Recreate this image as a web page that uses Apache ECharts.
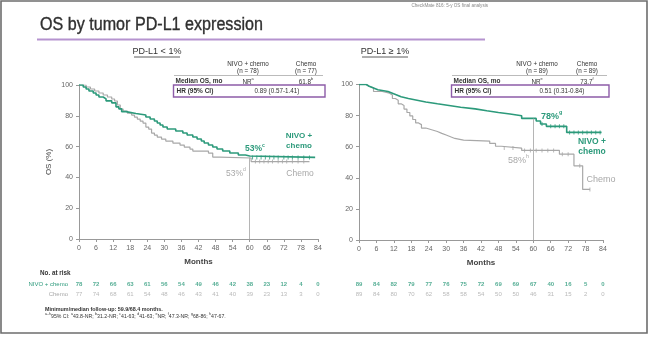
<!DOCTYPE html>
<html><head><meta charset="utf-8">
<script src="https://cdn.jsdelivr.net/npm/echarts@6/dist/echarts.min.js"></script>
<style>html,body{margin:0;padding:0;background:#fff}#c{width:650px;height:337px}</style>
</head><body><div id="c"></div>
<script>
// ---------- data ----------
const monthTicks = [0,6,12,18,24,30,36,42,48,54,60,66,72,78,84];
const riskRows = ['NIVO + chemo','Chemo'];
const lowRiskNivo  = [78,72,66,63,61,56,54,49,46,42,38,23,12,4,0];
const lowRiskChemo = [77,74,68,61,54,48,46,43,41,40,39,23,13,3,0];
const highRiskNivo  = [89,84,82,79,77,76,75,72,69,69,67,40,16,5,0];
const highRiskChemo = [89,84,80,70,62,58,58,54,50,50,46,31,15,2,0];

const lowNivo = [[0,100],[1.5,98.7],[2.5,97.4],[3.5,96.1],[5,94.8],[6,93.5],[7,92.2],[8.5,91],[9.5,89.7],[11.5,88.4],[13,85.8],[14,84.5],[15,82.7],[16.5,81.5],[20,80.5],[23.5,79.2],[25,77.9],[26.5,76.6],[27.5,75.3],[28.5,74],[29.5,72.7],[31,71.4],[34,70.1],[36.5,68.8],[38,67.5],[40,66.2],[41.5,64.9],[43,63.6],[44,62.3],[45.5,61],[47,59.7],[48.5,58.4],[50.5,57.1],[53,55.8],[56,54.5],[58.5,53.9],[60,53],[83,53]];
const lowChemo = [[0,100],[2.5,98.7],[4,97.4],[5.5,96.1],[7,94.8],[8.5,93.5],[10,92.2],[11.5,90.9],[12.5,89.6],[13.5,87],[14.5,84.4],[15.5,83.1],[17,81.8],[18.5,80.5],[19.5,79.2],[20.5,77.9],[21.5,76.6],[22.5,75.3],[23.5,72.7],[24.5,71.4],[25.5,68.8],[26.5,67.5],[27.5,66.2],[29,64.9],[30.5,63.6],[33,62.3],[35.5,61],[37,59.7],[39,58.4],[40,57.1],[45.5,55.8],[47,53.2],[49.5,52.6],[60.5,50.3],[81,50.3]];
const highNivo = [[0,100],[2.5,98.9],[3.5,97.8],[5,96.6],[6.5,95.5],[10,94.4],[11.5,93.3],[13,92.1],[14.5,91],[17,89.9],[20,88.8],[23,87.6],[27,86.5],[31,85.4],[35,84.3],[40,83.1],[44,82],[48,81],[52,79.9],[56,78.2],[61,76.5],[62.5,74.6],[64.5,73.1],[71.5,69.2],[83.5,69.2]];
const highChemo = [[0,100],[2.5,98.9],[3.5,97.8],[5,95.5],[8,94.4],[10.5,93.3],[11.5,91],[12.5,89.9],[13.5,87.6],[14.5,86.5],[15.5,84.2],[16.5,82],[17.5,79.8],[18.5,77.5],[19.5,75.3],[20.5,74.2],[21.5,72],[23,70.9],[25,69.8],[27,68.6],[28.5,67.5],[30,66.4],[31.5,65.3],[33,64.2],[36,63.6],[45,62.1],[47,60.3],[49,59.1],[56,57.6],[69,55.2],[74,47.7],[77,32.5],[79.5,32.5]];

const lowNivoCens  = [61,62.5,64,65.5,67,68.5,70,72,73.5,75,77,79,81];
const lowChemoCens = [62,63.5,65,66.5,68,70,71.5,73,75,77,79];
const highNivoCens = [63,66,67.5,69,70.5,72.5,74,75.5,77,78.5,80,81.5,83];
const highChemoCens = [50,53,57,59,61,63,65,67,70,72,76,79.5];

const landmark = 60;
const lowAt60 = 53, highAt60 = 78;

// ---------- helpers ----------
const GREEN = '#2c9a7b', GRAY = '#a8a8a8', TXT = '#333', PURPLE = '#8d5ca8';
function stepAt(curve, t){ let v = curve[0][1]; for (const p of curve){ if (p[0] <= t) v = p[1]; else break; } return v; }
function cens(curve, times){ return times.map(t => [t, stepAt(curve, t)]); }

const chart = echarts.init(document.getElementById('c'));
const F = 'Liberation Sans, Arial, sans-serif';

function xAxisKM(g){ return {type:'value', gridIndex:g, min:0, max:84, interval:6,
  axisLine:{lineStyle:{color:'#999', width:1}}, axisTick:{show:true, length:3, lineStyle:{color:'#999'}},
  axisLabel:{fontSize:7, color:'#666', margin:6, fontFamily:F}, splitLine:{show:false},
  name:'Months', nameLocation:'middle', nameGap:19, nameTextStyle:{fontSize:8, fontWeight:'bold', color:'#444', fontFamily:F}}; }
function yAxisKM(g, name){ return {type:'value', gridIndex:g, min:0, max:100, interval:20,
  axisLine:{show:true, lineStyle:{color:'#999', width:1}}, axisTick:{show:true, length:3, lineStyle:{color:'#999'}},
  axisLabel:{fontSize:7, color:'#666', margin:6, fontFamily:F}, splitLine:{show:false},
  name:name, nameLocation:'middle', nameGap:26, nameRotate:90, nameTextStyle:{fontSize:8, color:'#444', fontFamily:F}}; }
function xAxisRisk(g){ return {type:'value', gridIndex:g, min:0, max:84, show:false}; }
function yAxisRisk(g, showLab){ return {type:'category', gridIndex:g, data:riskRows, inverse:true,
  axisLine:{show:false}, axisTick:{show:false}, splitLine:{show:false},
  axisLabel:{show:showLab, margin:11, fontSize:6, fontFamily:F,
    formatter:(v)=> v===riskRows[0] ? '{n|'+v+'}' : '{c|'+v+'}',
    rich:{n:{color:GREEN, fontSize:6, fontFamily:F}, c:{color:GRAY, fontSize:6, fontFamily:F}}}}; }

function kmSeries(data, color, w, xi, z){ return {type:'line', xAxisIndex:xi, yAxisIndex:xi, data, step:'end',
  showSymbol:false, symbol:'none', lineStyle:{color, width:w}, z, silent:true, animation:false}; }
function censSeries(data, color, xi){ return {type:'scatter', xAxisIndex:xi, yAxisIndex:xi, data, symbol:'rect',
  symbolSize:[1,4], itemStyle:{color}, z:4, silent:true, animation:false}; }
function riskSeries(vals, row, color, bold, xi){ return {type:'scatter', xAxisIndex:xi, yAxisIndex:xi,
  data: vals.map((v,i)=>[monthTicks[i], row, v]), symbolSize:0, silent:true, animation:false,
  label:{show:true, position:'inside', formatter:(p)=>String(p.value[2]), color, fontSize:6, fontWeight:bold?'bold':'normal', fontFamily:F}}; }
function landmarkSeries(yTop, xi){ return {type:'line', xAxisIndex:xi, yAxisIndex:xi, data:[], silent:true, animation:false,
  markLine:{silent:true, symbol:'none', label:{show:false}, lineStyle:{color:'#b5b5b5', width:1, type:'solid'},
    data:[[{coord:[landmark,0]},{coord:[landmark,yTop]}]]}, z:1}; }

function txt(x, y, text, o){ o = o||{}; return {type:'text', silent:true, style:Object.assign({x, y, text, fill:TXT,
  font:(o.w||'normal')+' '+(o.s||6.5)+'px '+F, align:o.a||'left', verticalAlign:'middle'}, o.st||{})}; }
function richTxt(x, y, text, size, color, weight, align){ return {type:'text', silent:true, style:{x, y, text, fill:color, align:align||'left', verticalAlign:'middle',
  rich:{m:{fontSize:size, fill:color, fontWeight:weight, fontFamily:F, lineHeight:size+2, verticalAlign:'bottom'},
        s:{fontSize:size*0.6, fill:color, fontWeight:weight, fontFamily:F, lineHeight:size+2, verticalAlign:'top'}}}}; }

function table(x0, x1, cN, cC, nN, nC, medN, medC, hr, boxR){
  return [
    txt(cN, 63.8, 'NIVO + chemo', {a:'center', s:6.3}), txt(cN, 70.8, '(n = '+nN+')', {a:'center', s:6.3}),
    txt(cC, 63.8, 'Chemo', {a:'center', s:6.3}), txt(cC, 70.8, '(n = '+nC+')', {a:'center', s:6.3}),
    {type:'line', silent:true, shape:{x1:x0, y1:75.5, x2:x1, y2:75.5}, style:{stroke:'#aaa', lineWidth:0.8}},
    txt(x0+1.5, 80.8, 'Median OS, mo', {w:'bold', s:6.5}),
    richTxt(cN, 80.8, '{m|'+medN[0]+'}{s|'+medN[1]+'}', 6.3, TXT, 'normal', 'center'),
    richTxt(cC, 80.8, '{m|'+medC[0]+'}{s|'+medC[1]+'}', 6.3, TXT, 'normal', 'center'),
    {type:'rect', silent:true, shape:{x:x0-0.5, y:85, width:boxR-x0+0.5, height:12}, style:{fill:'none', stroke:PURPLE, lineWidth:1.4}},
    txt(x0+2.5, 91, 'HR (95% CI)', {w:'bold', s:6.5}),
    txt((cN+cC)/2, 91, hr, {a:'center', s:6.3})
  ];
}

const graphics = [
  {type:'rect', silent:true, shape:{x:1, y:1, width:646, height:332}, style:{fill:'none', stroke:'#6d6d6d', lineWidth:1.6}},
  {type:'text', silent:true, x:40, y:25.5, scaleX:0.895, style:{x:0, y:0, text:'OS by tumor PD-L1 expression', fill:'#2f2f2f', font:'normal 18px '+F, verticalAlign:'middle', stroke:'#2f2f2f', lineWidth:0.35}},
  {type:'line', silent:true, shape:{x1:37, y1:39.5, x2:485, y2:39.5}, style:{stroke:'#b593cf', lineWidth:2}},
  txt(488, 5.5, 'CheckMate 816: 5-y OS final analysis', {a:'right', s:4.6, st:{fill:'#888'}}),
  txt(157, 51.5, 'PD-L1 < 1%', {a:'center', s:9, st:{fill:'#333'}}),
  {type:'line', silent:true, shape:{x1:134, y1:57, x2:180, y2:57}, style:{stroke:'#333', lineWidth:0.8}},
  txt(385, 51.5, 'PD-L1 \u2265 1%', {a:'center', s:9, st:{fill:'#333'}}),
  {type:'line', silent:true, shape:{x1:362, y1:57, x2:408, y2:57}, style:{stroke:'#333', lineWidth:0.8}},
  ...table(174, 323, 248, 306, 78, 77, ['NR','a'], ['61.8','b'], '0.89 (0.57-1.41)', 325),
  ...table(452, 607, 537, 587, 89, 89, ['NR','e'], ['73.7','f'], '0.51 (0.31-0.84)', 609),
  // curve annotations
  richTxt(245, 148, '{m|53%}{s|c}', 8.5, GREEN, 'bold', 'left'),
  txt(299, 135.5, 'NIVO +', {a:'center', s:8, w:'bold', st:{fill:GREEN}}),
  txt(299, 145.5, 'chemo', {a:'center', s:8, w:'bold', st:{fill:GREEN}}),
  richTxt(226, 172.5, '{m|53%}{s|d}', 8.5, GRAY, 'normal', 'left'),
  txt(300, 174, 'Chemo', {a:'center', s:8.5, st:{fill:GRAY}}),
  richTxt(541, 116, '{m|78%}{s|g}', 9, GREEN, 'bold', 'left'),
  txt(592, 141.5, 'NIVO +', {a:'center', s:8.5, w:'bold', st:{fill:GREEN}}),
  txt(592, 151.5, 'chemo', {a:'center', s:8.5, w:'bold', st:{fill:GREEN}}),
  richTxt(508, 160, '{m|58%}{s|h}', 9, GRAY, 'normal', 'left'),
  txt(601, 180, 'Chemo', {a:'center', s:9, st:{fill:GRAY}}),
  // at-risk and footnotes
  txt(40, 273.5, 'No. at risk', {w:'bold', s:6.3}),
  txt(45, 309.5, 'Minimum/median follow-up: 59.9/68.4 months.', {w:'bold', s:5.4}),
  {type:'text', silent:true, style:{x:45, y:315.5, verticalAlign:'middle', fill:TXT,
    text:'{s|a\u2013h}{m|95% CI: }{s|a}{m|43.8-NR; }{s|b}{m|31.2-NR; }{s|c}{m|41-63; }{s|d}{m|41-63; }{s|e}{m|NR; }{s|f}{m|47.3-NR; }{s|g}{m|68-86; }{s|h}{m|47-67.}',
    rich:{m:{fontSize:5.2, fill:TXT, fontFamily:F, lineHeight:7, verticalAlign:'bottom'}, s:{fontSize:3.6, fill:TXT, fontFamily:F, lineHeight:7, verticalAlign:'top'}}}}
];

chart.setOption({
  animation:false,
  backgroundColor:'#ffffff',
  grid:[
    {left:79, right:332, top:85, height:154},
    {left:359, right:47, top:84.5, height:155.5},
    {left:79, right:332, top:280, height:19},
    {left:359, right:47, top:280, height:19}
  ],
  xAxis:[xAxisKM(0), xAxisKM(1), xAxisRisk(2), xAxisRisk(3)],
  yAxis:[yAxisKM(0,'OS (%)'), yAxisKM(1,''), yAxisRisk(2,true), yAxisRisk(3,false)],
  series:[
    landmarkSeries(lowAt60, 0),
    kmSeries(lowChemo, GRAY, 1.2, 0, 2),
    kmSeries(lowNivo, GREEN, 1.6, 0, 3),
    censSeries(cens(lowChemo, lowChemoCens), GRAY, 0),
    censSeries(cens(lowNivo, lowNivoCens), GREEN, 0),
    landmarkSeries(highAt60, 1),
    kmSeries(highChemo, GRAY, 1.2, 1, 2),
    kmSeries(highNivo, GREEN, 1.6, 1, 3),
    censSeries(cens(highChemo, highChemoCens), GRAY, 1),
    censSeries(cens(highNivo, highNivoCens), GREEN, 1),
    riskSeries(lowRiskNivo, riskRows[0], GREEN, true, 2),
    riskSeries(lowRiskChemo, riskRows[1], GRAY, false, 2),
    riskSeries(highRiskNivo, riskRows[0], GREEN, true, 3),
    riskSeries(highRiskChemo, riskRows[1], GRAY, false, 3)
  ],
  graphic: graphics
});
</script>
</body></html>
